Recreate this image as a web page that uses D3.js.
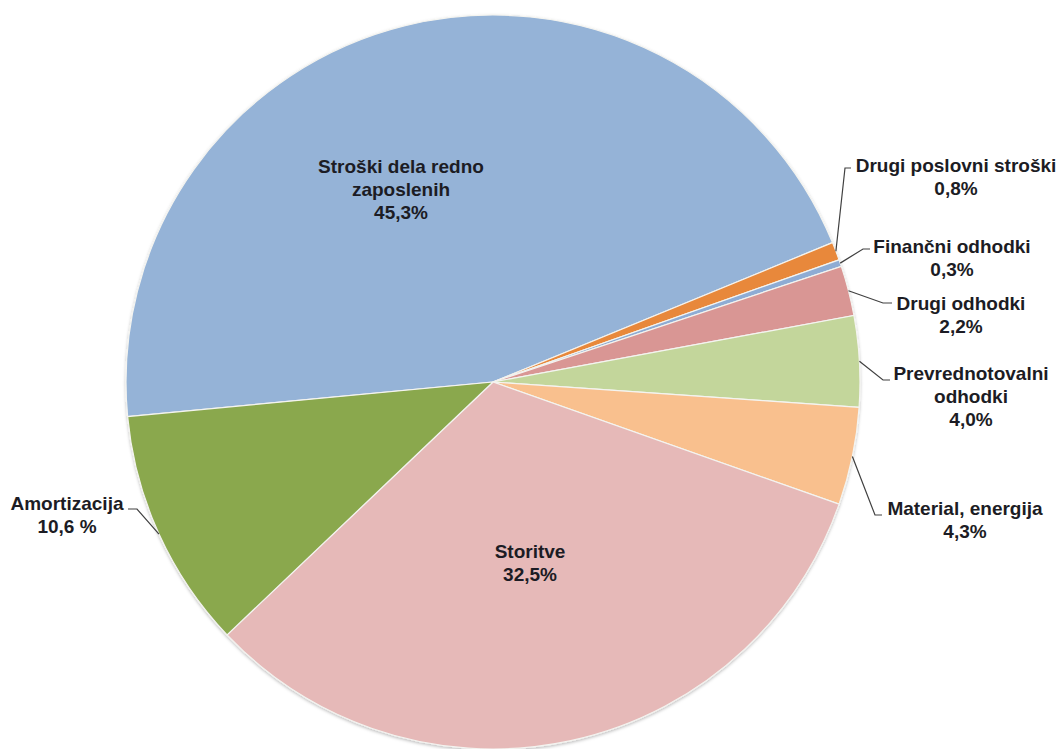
<!DOCTYPE html>
<html>
<head>
<meta charset="utf-8">
<script src="https://cdn.jsdelivr.net/npm/d3@7"></script>
<style>
  body { margin: 0; background: #fff; }
  .lbl { font-family: "Liberation Sans", Arial, sans-serif; font-weight: bold; font-size: 19px; fill: #1c1c24; }
</style>
</head>
<body>
<script>
/* categories and values (percent) */
var categories = ["Stroški dela redno zaposlenih", "Drugi poslovni stroški", "Finančni odhodki",
                  "Drugi odhodki", "Prevrednotovalni odhodki", "Material, energija", "Storitve", "Amortizacija"];
var values = [45.3, 0.8, 0.3, 2.2, 4.0, 4.3, 32.5, 10.6];
var valueLabels = ["45,3%", "0,8%", "0,3%", "2,2%", "4,0%", "4,3%", "32,5%", "10,6 %"];
var labelLines = [["Stroški dela redno", "zaposlenih"], ["Drugi poslovni stroški"], ["Finančni odhodki"],
                  ["Drugi odhodki"], ["Prevrednotovalni", "odhodki"], ["Material, energija"], ["Storitve"], ["Amortizacija"]];
var colors = ["#95b3d7", "#e8883a", "#8eacd4", "#d99694", "#c3d69b", "#f9c08e", "#e6b9b8", "#8aa84e"];

var width = 1063, height = 749;
var cx = 493, cy = 382, radius = 367;
var startDeg = -95.4; // first slice begins here (clockwise from top)

/* label layout: text centre x, first baseline y, and leader elbow / end (null = inside label) */
var labelLayout = [
  {x: 401, y: 173, elbow: null, end: null},
  {x: 956, y: 172, elbow: [845, 168], end: [851, 168]},
  {x: 952, y: 253, elbow: [863, 249], end: [870, 249]},
  {x: 961, y: 310, elbow: [883, 303], end: [892, 303]},
  {x: 971, y: 380, elbow: [883, 380], end: [890, 380]},
  {x: 965, y: 515, elbow: [875, 515], end: [882, 515]},
  {x: 530, y: 558, elbow: null, end: null},
  {x: 67, y: 510, elbow: [137, 509], end: [128, 509]}
];
var lineGap = 23;

var svg = d3.select("body").append("svg")
    .attr("width", width)
    .attr("height", height);

var defs = svg.append("defs");
var f = defs.append("filter").attr("id", "shadow")
    .attr("x", "-10%").attr("y", "-10%").attr("width", "120%").attr("height", "120%");
f.append("feDropShadow").attr("dx", 0).attr("dy", 1.5).attr("stdDeviation", 1.5)
    .attr("flood-color", "#000").attr("flood-opacity", 0.25);

var data = values.map(function(v, i) { return {name: categories[i], value: v, i: i}; });

var pie = d3.pie()
    .sort(null)
    .value(function(d) { return d.value; })
    .startAngle(startDeg * Math.PI / 180)
    .endAngle(startDeg * Math.PI / 180 + 2 * Math.PI);

var arc = d3.arc().innerRadius(0).outerRadius(radius);

var g = svg.append("g").attr("transform", "translate(" + cx + "," + cy + ")");
var arcs = pie(data);

g.append("g").attr("filter", "url(#shadow)")
  .selectAll("path")
  .data(arcs)
  .enter()
  .append("path")
    .attr("d", arc)
    .attr("fill", function(d) { return colors[d.data.i]; })
    .attr("stroke", "#f4f4f0")
    .attr("stroke-width", 1.2);

// leader lines from the slice edge to the outside labels
arcs.forEach(function(d) {
    var lay = labelLayout[d.data.i];
    if (!lay.elbow) return;
    var mid = (d.startAngle + d.endAngle) / 2;
    var px = cx + radius * Math.sin(mid), py = cy - radius * Math.cos(mid);
    svg.append("polyline")
        .attr("points", [[px, py], lay.elbow, lay.end].map(function(p) { return p.join(","); }).join(" "))
        .attr("fill", "none")
        .attr("stroke", "#404040")
        .attr("stroke-width", 1.2);
});

// labels
arcs.forEach(function(d) {
    var i = d.data.i, lay = labelLayout[i];
    var lines = labelLines[i].concat([valueLabels[i]]);
    var t = svg.append("text")
        .attr("class", "lbl")
        .attr("text-anchor", "middle")
        .attr("x", lay.x)
        .attr("y", lay.y);
    lines.forEach(function(s, k) {
        t.append("tspan")
            .attr("x", lay.x)
            .attr("dy", k === 0 ? 0 : lineGap)
            .text(s);
    });
});
</script>
</body>
</html>
